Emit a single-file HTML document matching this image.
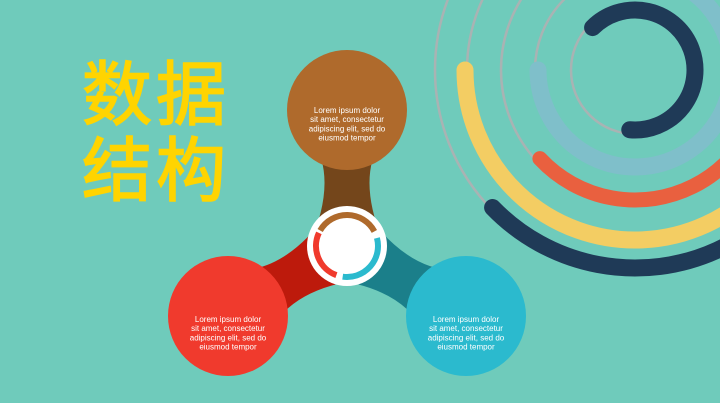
<!DOCTYPE html>
<html><head><meta charset="utf-8"><style>
html,body{margin:0;padding:0;width:720px;height:403px;overflow:hidden;background:#6fcbbb}
svg{display:block}
.t{font-family:"Liberation Sans","DejaVu Sans",sans-serif;font-size:8px;fill:#fff;text-anchor:middle}
.h{font-family:"Liberation Sans","Noto Sans CJK SC",sans-serif;font-size:70px;font-weight:normal;fill:#ffd400;stroke:#ffd400;stroke-width:1.6px;letter-spacing:4px}
</style></head><body>
<svg width="720" height="403" viewBox="0 0 720 403">
<rect width="720" height="403" fill="#6fcbbb"/>
<g id="rings"></g>
<text class="h" x="82" y="119">数据</text>
<text class="h" x="82" y="195">结构</text>
<g id="hub"></g>
</svg>
<script>
const NS='http://www.w3.org/2000/svg';
function mk(tag,attrs,parent){const e=document.createElementNS(NS,tag);for(const k in attrs)e.setAttribute(k,attrs[k]);parent.appendChild(e);return e;}
const cx=635,cy=70;
const rings=document.getElementById('rings');
function arc(r,a0,a1){const p=a=>[cx+r*Math.cos(a*Math.PI/180),cy+r*Math.sin(a*Math.PI/180)];const s=p(a0),e=p(a1);let d=a1-a0;const large=Math.abs(d)>180?1:0;const sw=d>0?1:0;return `M${s[0]},${s[1]} A${r},${r} 0 ${large} ${sw} ${e[0]},${e[1]}`;}
[200,168,134,100,64].forEach(r=>{const c=mk('circle',{cx:cx,cy:cy,r:r,fill:'none',stroke:'#a9b3b3','stroke-width':2.5},rings);

});
const arcs=[[97,180,-60,'#7fbfca',17,'light-blue-arc'],[130,137,-10,'#e9603f',15,'red-arc'],[170,180,-5,'#f3cd63',17,'yellow-arc'],[198,136,-5,'#1f3a57',17,'navy-outer-arc'],[60,-135,95,'#1f3a57',17,'navy-inner-arc']];
arcs.forEach(a=>{const p=mk('path',{d:arc(a[0],a[1],a[2]),fill:'none',stroke:a[3],'stroke-width':a[4],'stroke-linecap':'round'},rings);

});
const hub=document.getElementById('hub');
const C=[347,246];
function connector(B,wA,wm,wB,col,name){const dx=B[0]-C[0],dy=B[1]-C[1],L=Math.hypot(dx,dy),ux=dx/L,uy=dy/L,px=-uy,py=ux;
const A1=[C[0]+px*wA,C[1]+py*wA],A2=[C[0]-px*wA,C[1]-py*wA];
const E=[C[0]+ux*L*0.8,C[1]+uy*L*0.8];
const B1=[E[0]+px*wB,E[1]+py*wB],B2=[E[0]-px*wB,E[1]-py*wB];
const M=[C[0]+ux*L*0.5,C[1]+uy*L*0.5];
const M1=[M[0]+px*wm,M[1]+py*wm],M2=[M[0]-px*wm,M[1]-py*wm];
const d=`M${A1} Q${M1} ${B1} L${B2} Q${M2} ${A2} Z`;
const p=mk('path',{d:d,fill:col},hub);

}
connector([347,110],38,8,36,'#74461b','brown-connector');
connector([228,315],38,8,36,'#bd1a0c','red-connector');
connector([466,315],38,8,36,'#1b7f8a','teal-connector');
const circles=[[347,110,'#af6a2c','brown-circle',3],[228,316,'#f03a2d','red-circle',6],[466,316,'#2bbace','blue-circle',6]];
const lines=['Lorem ipsum dolor','sit amet, consectetur','adipiscing elit, sed do','eiusmod tempor'];
circles.forEach(c=>{const e=mk('circle',{cx:c[0],cy:c[1],r:60,fill:c[2]},hub);


const t=mk('text',{class:'t',x:c[0],y:c[1]+c[4]},hub);


lines.forEach((l,i)=>{const s=mk('tspan',{x:c[0],y:c[1]+c[4]+i*9.2},t);s.textContent=l;});});
const w=mk('circle',{cx:C[0],cy:C[1],r:40,fill:'#fff'},hub);


function carc(r,a0,a1){const p=a=>[C[0]+r*Math.cos(a*Math.PI/180),C[1]+r*Math.sin(a*Math.PI/180)];const s=p(a0),e=p(a1);return `M${s[0]},${s[1]} A${r},${r} 0 0 1 ${e[0]},${e[1]}`;}
[[-150,-28,'#af6a2c','brown-cycle-arrow'],[-15,98,'#2bbace','blue-cycle-arrow'],[110,205,'#f03a2d','red-cycle-arrow']].forEach(a=>{const p=mk('path',{d:carc(31,a[0],a[1]),fill:'none',stroke:a[2],'stroke-width':6},hub);

});
</script>
</body></html>
